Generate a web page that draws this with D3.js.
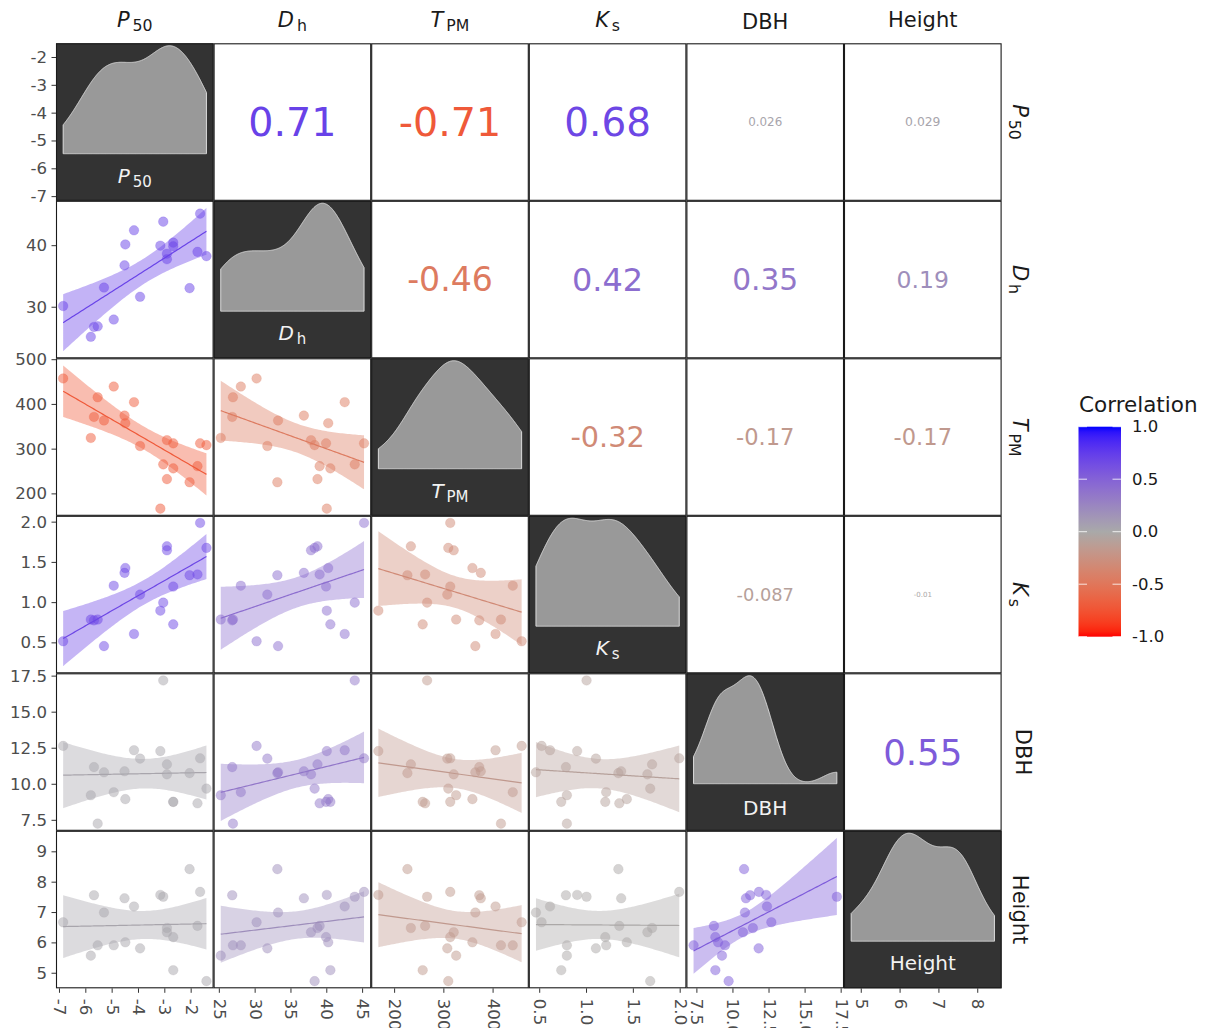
<!DOCTYPE html>
<html><head><meta charset="utf-8">
<script src="https://cdn.jsdelivr.net/npm/d3@7"></script>
<style>
body{margin:0;background:#fff;}
svg{display:block;font-family:"DejaVu Sans",sans-serif;}
</style>
</head><body>
<svg id="c" width="1208" height="1028"></svg>
<script>
// ---------------- data ----------------
const P50    = [-6.86,-5.81,-5.69,-5.55,-5.31,-4.94,-4.53,-4.50,-4.17,-3.94,-3.17,-3.06,-2.92,-2.92,-2.68,-2.68,-2.06,-1.76,-1.66,-1.42];
const Dh     = [30.2,25.2,26.8,26.9,33.2,28.0,36.8,40.2,42.5,31.7,40.0,43.9,38.7,37.8,40.5,39.9,33.1,39.0,45.2,38.3];
const TPM    = [458,325,372,416,364,440,375,358,405,307,167,266,233,320,257,313,226,262,313,309];
const Ks     = [0.52,0.79,0.78,0.79,0.46,1.21,1.37,1.43,0.61,1.10,0.90,1.00,1.70,1.65,0.73,1.20,1.34,1.35,1.99,1.68];
const DBH    = [12.66,9.24,11.19,7.27,10.83,9.45,10.90,8.97,12.36,11.78,12.30,17.20,11.38,10.69,8.78,8.78,10.77,8.68,11.80,9.70];
const Height = [6.68,5.58,7.57,5.92,7.00,5.92,7.47,6.02,7.20,5.82,7.58,7.52,6.49,6.35,5.10,6.19,8.43,6.56,7.68,4.74];

// variable labels: [main, subscript]
const varLabels = [["P","50"],["D","h"],["T","PM"],["K","s"],["DBH",null],["Height",null]];

// correlations shown in the upper triangle (row-major)
const corrValues = [0.71,-0.71,0.68,0.026,0.029, -0.46,0.42,0.35,0.19, -0.32,-0.17,-0.17, -0.087,-0.01, 0.55];

// tick labels
const xTicks = [[-7,-6,-5,-4,-3,-2],[25,30,35,40,45],[200,300,400],[0.5,1.0,1.5,2.0],[7.5,10.0,12.5,15.0,17.5],[5,6,7,8]];
const yTicks = [[-7,-6,-5,-4,-3,-2],[30,40],[200,300,400,500],[0.5,1.0,1.5,2.0],[7.5,10.0,12.5,15.0,17.5],[5,6,7,8,9]];
const tickDecimals = [0,0,0,1,1,0];
const row1AxisDomain = [-7.15,-1.49];
const legendTicks = [1.0,0.5,0.0,-0.5,-1.0];

// ---------------- layout ----------------
const vars = [P50,Dh,TPM,Ks,DBH,Height];
const NV = vars.length;
const gx = 56, gy = 43.3, cw = 157.6, ch = 157.5;
const svg = d3.select("#c");

const colNeg = d3.interpolateLab("#A9A9A9","#FF0000");
const colPos = d3.interpolateLab("#A9A9A9","#0000FF");
const corrColor = v => v < 0 ? colNeg(-v) : colPos(v);

function expand(ext, f=0.05){ const r = ext[1]-ext[0]; return [ext[0]-f*r, ext[1]+f*r]; }

const xScales = vars.map((v,j)=> d3.scaleLinear().domain(expand(d3.extent(v))).range([gx+j*cw, gx+(j+1)*cw]));

// linear fit with 95% confidence band
function fitBand(xs, ys){
  const n = xs.length, mx = d3.mean(xs), my = d3.mean(ys);
  let sxx=0, sxy=0;
  for(let k=0;k<n;k++){ sxx += (xs[k]-mx)**2; sxy += (xs[k]-mx)*(ys[k]-my); }
  const b = sxy/sxx, a = my - b*mx;
  let sse = 0; for(let k=0;k<n;k++){ sse += (ys[k]-a-b*xs[k])**2; }
  const s = Math.sqrt(sse/(n-2));
  const t = 2.100922; // qt(0.975, 18)
  const [lo,hi] = d3.extent(xs);
  return d3.range(80).map(k=>{
    const x = lo + (hi-lo)*k/79, yh = a + b*x;
    const se = s*Math.sqrt(1/n + (x-mx)**2/sxx);
    return {x, y:yh, lo:yh-t*se, hi:yh+t*se};
  });
}

const bands = {};
for(let i=1;i<NV;i++) for(let j=0;j<i;j++) bands[i+"_"+j] = fitBand(vars[j], vars[i]);

const yScales = vars.map((v,i)=>{
  let dom;
  if(i===0) dom = row1AxisDomain;
  else {
    let vals = v.slice();
    for(let j=0;j<i;j++) bands[i+"_"+j].forEach(p=>{ vals.push(p.lo, p.hi); });
    dom = expand(d3.extent(vals));
  }
  return d3.scaleLinear().domain(dom).range([gy+(i+1)*ch, gy+i*ch]);
});

// correlation lookup
const corr = {}; { let k=0; for(let i=0;i<NV;i++) for(let j=i+1;j<NV;j++){ corr[i+"_"+j] = corrValues[k++]; } }
const absVals = corrValues.map(Math.abs);
const aMin = d3.min(absVals), aMax = d3.max(absVals);
const sizeScale = d3.scaleLinear().domain([0,1]).range([7,39.6]);
const corrSize = v => sizeScale(Math.sqrt((Math.abs(v)-aMin)/(aMax-aMin)));

// KDE (gaussian, bw.nrd0)
function kde(values){
  const s = values.slice().sort(d3.ascending), n = s.length;
  const sd = d3.deviation(s), iqr = d3.quantile(s,0.75)-d3.quantile(s,0.25);
  const bw = 0.9*Math.min(sd, iqr/1.34)*Math.pow(n,-0.2);
  const [lo,hi] = d3.extent(s);
  return d3.range(512).map(k=>{
    const x = lo + (hi-lo)*k/511;
    const d = d3.mean(s, v=> Math.exp(-0.5*((x-v)/bw)**2))/(bw*Math.sqrt(2*Math.PI));
    return {x, d};
  });
}

function addLabel(sel, lab, mainSize){
  if(lab[1]===null){ sel.text(lab[0]); return; }
  sel.append("tspan").attr("font-style","italic").text(lab[0]);
  sel.append("tspan").attr("dx", mainSize*0.14).attr("dy", mainSize*0.2).attr("font-size", mainSize*0.75).text(lab[1]);
}

// ---------------- panels ----------------
const gPanels = svg.append("g");
for(let i=0;i<NV;i++){
  for(let j=0;j<NV;j++){
    const px = gx + j*cw, py = gy + i*ch;
    const g = gPanels.append("g");
    if(i===j){
      g.append("rect").attr("x",px).attr("y",py).attr("width",cw).attr("height",ch).attr("fill","#333333");
      const dens = kde(vars[i]);
      const dy = d3.scaleLinear().domain([0, d3.max(dens,d=>d.d)]).range([py+0.701*ch, py+0.0155*ch]);
      const area = d3.area().x(d=>xScales[j](d.x)).y0(dy(0)).y1(d=>dy(d.d));
      g.append("path").datum(dens).attr("d", area(dens)+"Z").attr("fill","#999999").attr("stroke","#DCDCDC").attr("stroke-width",1);
      const t = g.append("text").attr("x",px+cw/2).attr("y", py + (varLabels[i][1]!==null || varLabels[i][0]==="Height" ? 139.5 : 141.5))
        .attr("text-anchor","middle").attr("font-size",20).attr("fill","#F2F2F2");
      addLabel(t, varLabels[i], 20);
    } else {
      g.append("rect").attr("x",px).attr("y",py).attr("width",cw).attr("height",ch).attr("fill","#ffffff");
      if(i<j){
        const v = corr[i+"_"+j];
        g.append("text").attr("x",px+cw/2).attr("y",py+ch/2).attr("text-anchor","middle")
          .attr("dominant-baseline","central").attr("font-size",corrSize(v)).attr("fill",corrColor(v)).text(String(v));
      } else {
        const v = corr[j+"_"+i];
        const col = corrColor(v);
        const xs = xScales[j], ys = yScales[i];
        const band = bands[i+"_"+j];
        g.selectAll("circle").data(vars[j].map((x,k)=>({x, y:vars[i][k]}))).enter().append("circle")
          .attr("cx",d=>xs(d.x)).attr("cy",d=>ys(d.y)).attr("r",4.8).attr("fill",col).attr("fill-opacity",0.5)
          .attr("stroke",col).attr("stroke-opacity",0.25).attr("stroke-width",0.8);
        g.append("path").attr("d", d3.area().x(d=>xs(d.x)).y0(d=>ys(d.lo)).y1(d=>ys(d.hi))(band))
          .attr("fill",col).attr("fill-opacity",0.4);
        g.append("path").attr("d", d3.line().x(d=>xs(d.x)).y(d=>ys(d.y))(band))
          .attr("fill","none").attr("stroke",col).attr("stroke-width",1.2);
      }
    }
  }
}
// borders
for(let i=0;i<NV;i++) for(let j=0;j<NV;j++){
  svg.append("rect").attr("x",gx+j*cw+0.5).attr("y",gy+i*ch+0.5).attr("width",cw-1).attr("height",ch-1)
    .attr("fill","none").attr("stroke","#1a1a1a").attr("stroke-width",1.1);
}

// ---------------- axes ----------------
const axColor = "#4D4D4D";
const bottomY = gy + NV*ch;
for(let j=0;j<NV;j++){
  const fmt = d3.format("."+tickDecimals[j]+"f");
  const ax = svg.append("g").attr("transform",`translate(0,${bottomY})`);
  ax.selectAll("line").data(xTicks[j]).enter().append("line")
    .attr("x1",d=>xScales[j](d)).attr("x2",d=>xScales[j](d)).attr("y1",0).attr("y2",4.5)
    .attr("stroke","#333333").attr("stroke-width",1);
  ax.selectAll("text").data(xTicks[j]).enter().append("text")
    .attr("transform",d=>`translate(${xScales[j](d)},10.5) rotate(90)`)
    .attr("text-anchor","start").attr("dominant-baseline","central")
    .attr("font-size",16.6).attr("fill",axColor).text(d=>fmt(d).replace("\u2212","-"));
}
for(let i=0;i<NV;i++){
  const fmt = d3.format("."+tickDecimals[i]+"f");
  const ax = svg.append("g").attr("transform",`translate(${gx},0)`);
  ax.selectAll("line").data(yTicks[i]).enter().append("line")
    .attr("y1",d=>yScales[i](d)).attr("y2",d=>yScales[i](d)).attr("x1",-4.5).attr("x2",0)
    .attr("stroke","#333333").attr("stroke-width",1);
  ax.selectAll("text").data(yTicks[i]).enter().append("text")
    .attr("x",-9).attr("y",d=>yScales[i](d)).attr("text-anchor","end").attr("dominant-baseline","central")
    .attr("font-size",16.6).attr("fill",axColor).text(d=>fmt(d).replace("\u2212","-"));
}

// ---------------- strip labels ----------------
for(let j=0;j<NV;j++){
  const lab = varLabels[j];
  const base = (lab[1]!==null || lab[0]==="Height") ? 27 : 29.3;
  const t = svg.append("text").attr("x",gx+j*cw+cw/2).attr("y",base).attr("text-anchor","middle")
    .attr("font-size",21).attr("fill","#1A1A1A");
  addLabel(t, lab, 21);
}
for(let i=0;i<NV;i++){
  const lab = varLabels[i];
  const base = (lab[1]!==null || lab[0]==="Height") ? 1013 : 1015.5;
  const t = svg.append("text").attr("transform",`translate(${base},${gy+i*ch+ch/2}) rotate(90)`)
    .attr("text-anchor","middle").attr("font-size",21).attr("fill","#1A1A1A");
  addLabel(t, lab, 21);
}

// ---------------- legend ----------------
const lgX = 1078.5, lgY = 426.7, lgW = 42.5, lgH = 210;
const defs = svg.append("defs");
const grad = defs.append("linearGradient").attr("id","cg").attr("x1",0).attr("y1",0).attr("x2",0).attr("y2",1);
d3.range(41).forEach(k=>{
  const v = 1 - 2*k/40;
  grad.append("stop").attr("offset",k/40).attr("stop-color",corrColor(v));
});
svg.append("text").attr("x",1079).attr("y",412).attr("font-size",21.5).attr("fill","#1A1A1A").text("Correlation");
svg.append("rect").attr("x",lgX).attr("y",lgY).attr("width",lgW).attr("height",lgH).attr("fill","url(#cg)");
const ly = d3.scaleLinear().domain([-1,1]).range([lgY+lgH, lgY]);
const lfmt = d3.format(".1f");
legendTicks.forEach(v=>{
  svg.append("line").attr("x1",lgX).attr("x2",lgX+8.5).attr("y1",ly(v)).attr("y2",ly(v)).attr("stroke","#ffffff").attr("stroke-opacity",0.8);
  svg.append("line").attr("x1",lgX+lgW-8.5).attr("x2",lgX+lgW).attr("y1",ly(v)).attr("y2",ly(v)).attr("stroke","#ffffff").attr("stroke-opacity",0.8);
  svg.append("text").attr("x",1132).attr("y",ly(v)).attr("dominant-baseline","central")
    .attr("font-size",16.5).attr("fill","#1A1A1A").text(lfmt(v).replace("\u2212","-"));
});
</script>
</body></html>
